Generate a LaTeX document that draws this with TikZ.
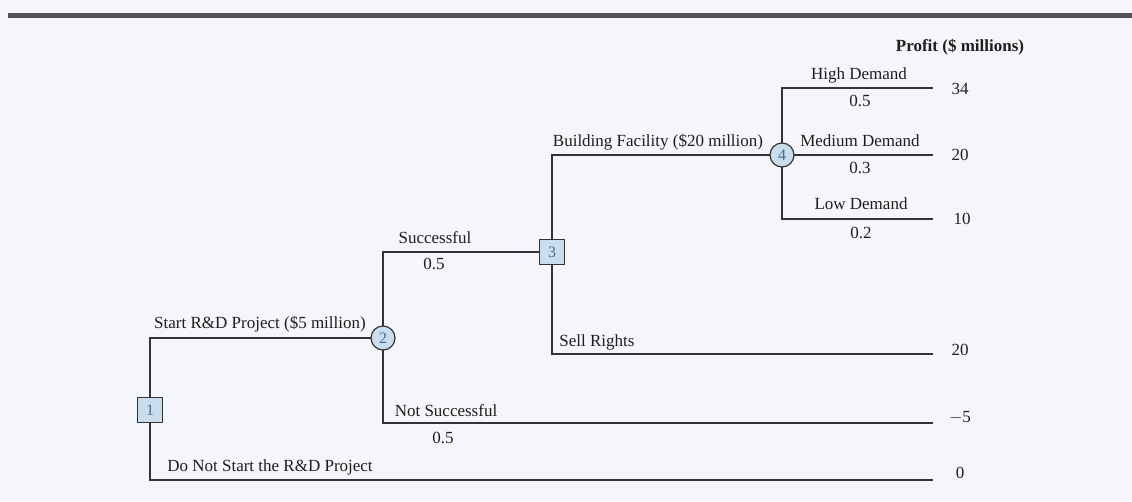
\documentclass[tikz,border=0pt]{standalone}
\usepackage{fontspec}
\setmainfont{Liberation Serif}
\definecolor{bg}{HTML}{F4F6F9}
\definecolor{ln}{HTML}{333333}
\definecolor{nodefill}{HTML}{C9DDEC}
\definecolor{numc}{HTML}{4A6C8A}
\definecolor{txt}{HTML}{1E1E1E}
\begin{document}
\begin{tikzpicture}[x=1pt,y=-1pt,
  every node/.style={font=\fontsize{17}{20}\selectfont, text=txt, inner sep=0pt},
  branch/.style={draw=ln, line width=1.9pt},
  dec/.style={draw=ln, line width=1.2pt, fill=nodefill, minimum size=25pt, rectangle,
    font=\fontsize{16}{18}\selectfont, text=numc},
  chance/.style={draw=ln, line width=1.2pt, fill=nodefill, minimum size=24pt, circle,
    font=\fontsize{16}{18}\selectfont, text=numc},
  lbl/.style={anchor=center},
  val/.style={anchor=center}]
\fill[bg] (0,0) rectangle (1132,501);
\useasboundingbox (0,0) rectangle (1132,501);
\fill[ln!85] (8,13) rectangle (1132,18);

% terminal coordinates
\coordinate (tH) at (933,88);
\coordinate (tM) at (933,155);
\coordinate (tL) at (933,219);
\coordinate (tS) at (933,354);
\coordinate (tN) at (933,423);
\coordinate (tD) at (933,480);

% connectors first (nodes drawn on top)
\coordinate (p1) at (150,410);
\coordinate (p2) at (383,338);
\coordinate (p3) at (552,252);
\coordinate (p4) at (782,155);
\draw[branch] (p1) |- (p2);
\draw[branch] (p1) |- (tD);
\draw[branch] (p2) |- (p3);
\draw[branch] (p2) |- (tN);
\draw[branch] (p3) |- (p4);
\draw[branch] (p3) |- (tS);
\draw[branch] (p4) |- (tH);
\draw[branch] (p4) -- (tM);
\draw[branch] (p4) |- (tL);

\node[dec] (n1) at (p1) {1};
\node[chance] (n2) at (p2) {2};
\node[dec] (n3) at (p3) {3};
\node[chance] (n4) at (p4) {4};

% labels
\node[font=\fontsize{17}{20}\selectfont\bfseries] (prof) at (960,47) {Profit (\$ millions)};
\node[lbl] (lStart) at (260,324) {Start R\&D Project (\$5 million)};
\node[lbl] (lDo) at (270,467) {Do Not Start the R\&D Project};
\node[lbl] (lSucc) at (435,238) {Successful};
\node[lbl] (pSucc) at (434,264) {0.5};
\node[lbl] (lNot) at (446,411) {Not Successful};
\node[lbl] (pNot) at (443,438) {0.5};
\node[lbl] (lBuild) at (658,142) {Building Facility (\$20 million)};
\node[lbl] (lSell) at (597,342) {Sell Rights};
\node[lbl] (lHigh) at (859,75) {High Demand};
\node[lbl] (pHigh) at (860,101) {0.5};
\node[lbl] (lMed) at (860,141) {Medium Demand};
\node[lbl] (pMed) at (860,168) {0.3};
\node[lbl] (lLow) at (861,204) {Low Demand};
\node[lbl] (pLow) at (861,233) {0.2};

\node[val] (v34) at (960,89) {34};
\node[val] (v20a) at (960,155) {20};
\node[val] (v10) at (962,219) {10};
\node[val] (v20b) at (960,350) {20};
\node[val] (vm5) at (960,418) {$-$5};
\node[val] (v0) at (960,473) {0};
\end{tikzpicture}
\end{document}
